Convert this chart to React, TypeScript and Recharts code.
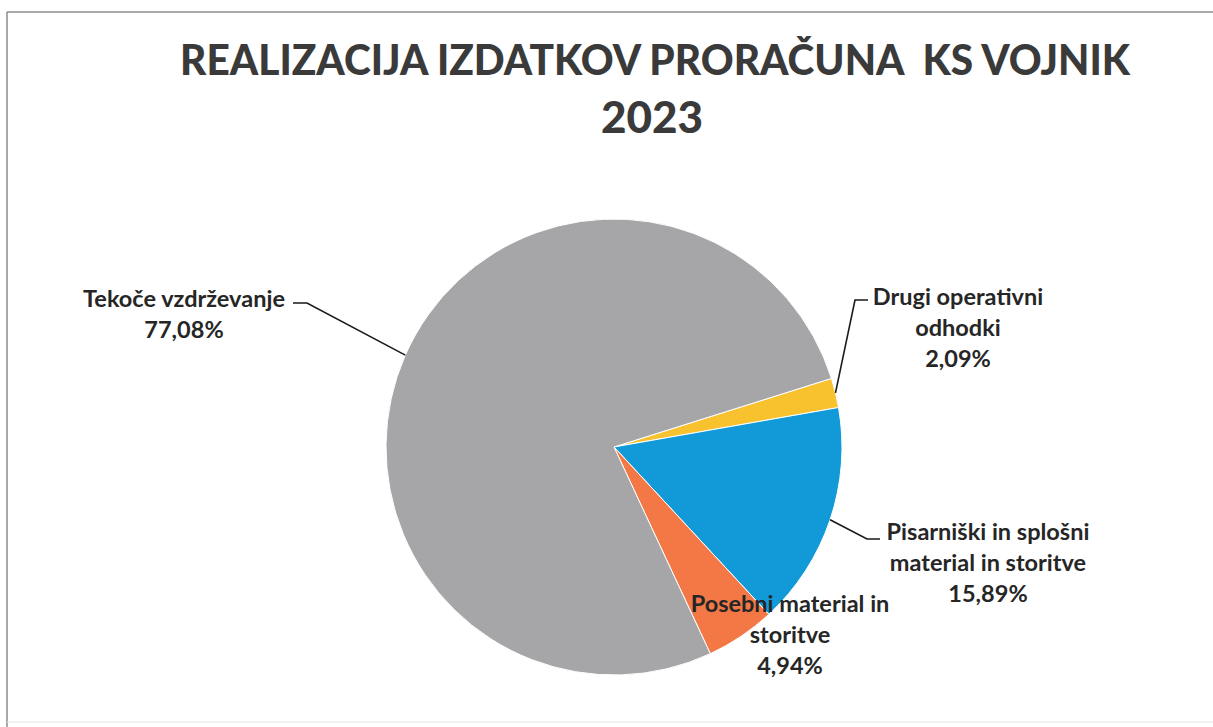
import React from 'react';
import { PieChart, Pie, Cell, Customized } from 'recharts';

const categories = [
  'Drugi operativni\nodhodki',
  'Pisarniški in splošni\nmaterial in storitve',
  'Posebni material in\nstoritve',
  'Tekoče vzdrževanje',
];
const shares = [2.09, 15.89, 4.94, 77.08];
const sliceColors = ['#F8C12E', '#1299D8', '#F37846', '#A6A6A8'];

const titleLines = ['REALIZACIJA IZDATKOV PRORAČUNA\u00A0 KS VOJNIK', '2023'];

const data = categories.map((name, i) => ({ name, value: shares[i] }));

// where each label sits and how its leader line bends (null = no leader)
const labelLayout = [
  { x: 958, y: 305, bend: [[855, 300], [868, 300]] },
  { x: 988, y: 540, bend: [[867, 539], [880, 539]] },
  { x: 790, y: 612, bend: null },
  { x: 184, y: 307, bend: [[307, 303], [293, 303]] },
];

const RAD = Math.PI / 180;
const FONT = 'Lato, "Open Sans", sans-serif';

const fmtPct = (v: number) => v.toFixed(2).replace('.', ',') + '%';

const renderLabel = (props: any) => {
  const { cx, cy, midAngle, outerRadius, index, value } = props;
  const lay = labelLayout[index];
  const lines = [...categories[index].split('\n'), fmtPct(value)];
  const ex = cx + outerRadius * Math.cos(-midAngle * RAD);
  const ey = cy + outerRadius * Math.sin(-midAngle * RAD);
  return (
    <g key={`lbl-${index}`}>
      {lay.bend && (
        <polyline
          points={[[ex, ey], ...lay.bend].map((p) => p.join(',')).join(' ')}
          fill="none"
          stroke="#1a1a1a"
          strokeWidth={1.6}
        />
      )}
      <text
        x={lay.x}
        y={lay.y}
        textAnchor="middle"
        fill="#262626"
        fontFamily={FONT}
        fontWeight={700}
        fontSize={23.5}
      >
        {lines.map((l, i) => (
          <tspan key={i} x={lay.x} dy={i === 0 ? 0 : 31}>
            {l}
          </tspan>
        ))}
      </text>
    </g>
  );
};

const Frame = () => (
  <g>
    <line x1={7} y1={12} x2={1213} y2={12} stroke="#8c8c8c" strokeWidth={1.5} />
    <line x1={7} y1={12} x2={7} y2={727} stroke="#8c8c8c" strokeWidth={1.5} />
    <line x1={7} y1={722} x2={1213} y2={722} stroke="#e6e6e6" strokeWidth={1} />
    <text
      x={655}
      y={75}
      textAnchor="middle"
      fill="#3a3a3a"
      fontFamily={FONT}
      fontWeight={900}
      fontSize={42}
      textLength={950}
      lengthAdjust="spacingAndGlyphs"
    >
      {titleLines[0]}
    </text>
    <text
      x={652}
      y={133}
      textAnchor="middle"
      fill="#3a3a3a"
      fontFamily={FONT}
      fontWeight={900}
      fontSize={44}
    >
      {titleLines[1]}
    </text>
  </g>
);

export default function App() {
  return (
    <div style={{ position: 'absolute', left: 0, top: 0, background: '#fff' }}>
      <PieChart width={1213} height={727} margin={{ top: 0, right: 0, bottom: 0, left: 0 }}>
        <Customized component={Frame} />
        <Pie
          data={data}
          dataKey="value"
          nameKey="name"
          cx={614}
          cy={447}
          outerRadius={228}
          startAngle={17.5}
          endAngle={-342.5}
          stroke="#ffffff"
          strokeWidth={1}
          label={renderLabel}
          labelLine={false}
          isAnimationActive={false}
        >
          {data.map((d, i) => (
            <Cell key={`c-${i}`} fill={sliceColors[i]} />
          ))}
        </Pie>
      </PieChart>
    </div>
  );
}
